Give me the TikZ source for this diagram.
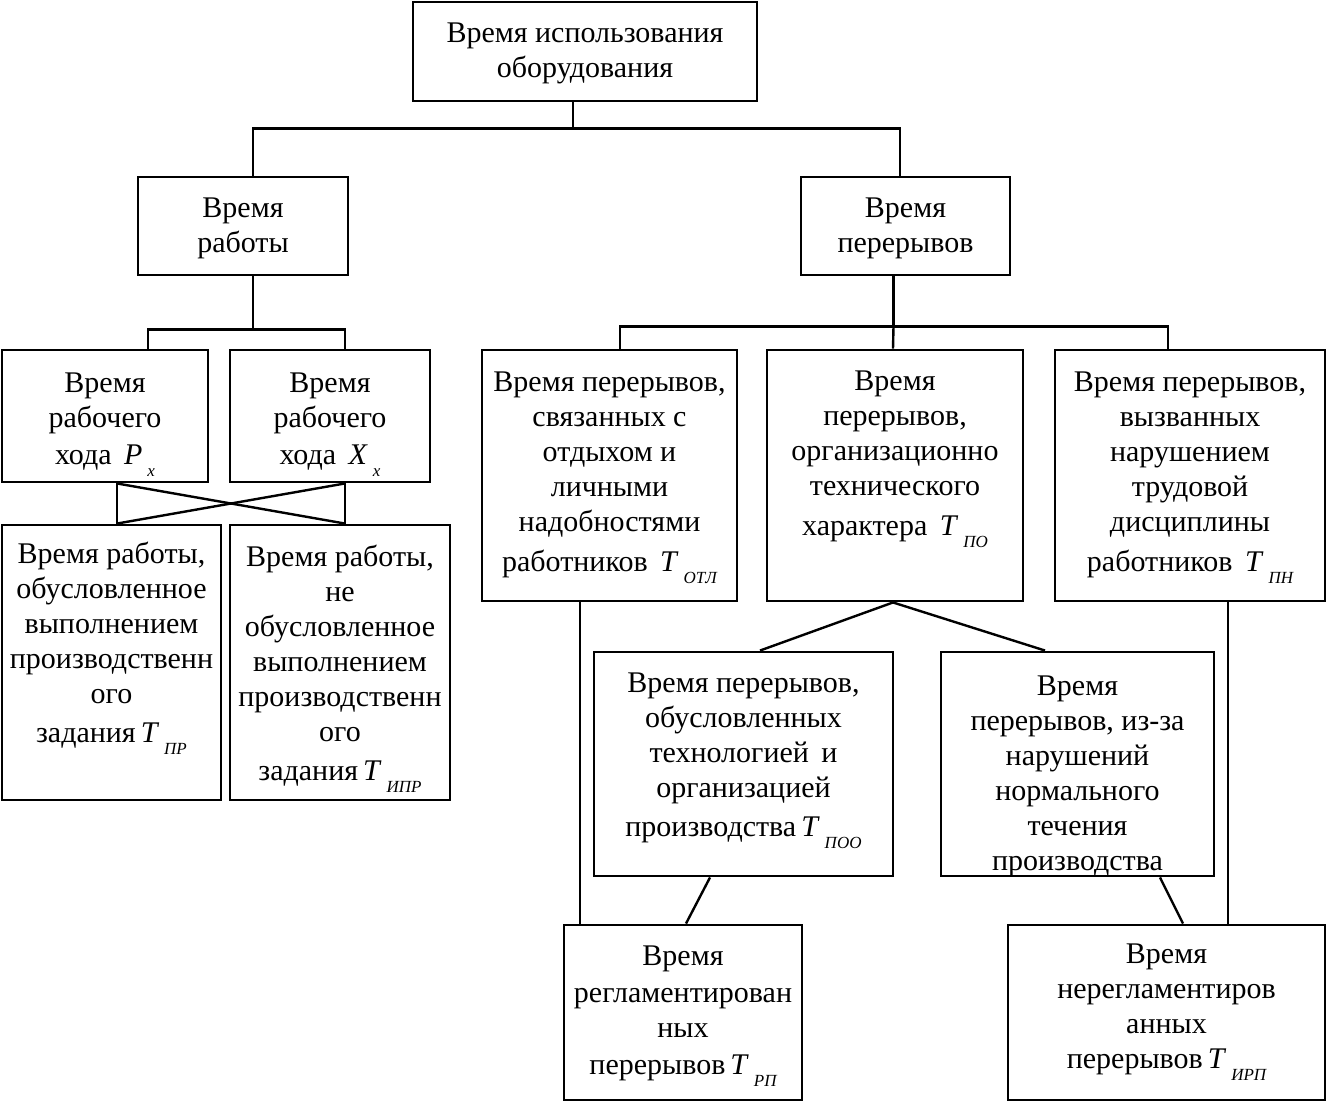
\documentclass[tikz,border=0pt]{standalone}
\usepackage{fontspec}
\setmainfont{Liberation Serif}
\newcommand{\Tsub}[2]{\textit{#1}\,\raisebox{-0.4em}{\fontsize{17}{17}\selectfont\itshape #2}}
\tikzset{
  box/.style={draw, line width=2.9pt, inner sep=0pt},
  txt/.style={align=center, font=\fontsize{30}{35}\selectfont, inner sep=0pt},
  conn/.style={line width=2.4pt}
}
\begin{document}
\begin{tikzpicture}[x=1pt,y=-1pt]
\useasboundingbox (0,0) rectangle (1327,1103);
% boxes
\node[box, minimum width=344, minimum height=99] (top) at (585,51.5) {};
\node[box, minimum width=210, minimum height=98] (work) at (243,226) {};
\node[box, minimum width=209, minimum height=98] (brk) at (905.5,226) {};
\node[box, minimum width=206, minimum height=132] (px) at (105,416) {};
\node[box, minimum width=200, minimum height=132] (xx) at (330,416) {};
\node[box, minimum width=219, minimum height=275] (ta) at (111.5,662.5) {};
\node[box, minimum width=220, minimum height=275] (tb) at (340,662.5) {};
\node[box, minimum width=255, minimum height=251] (otl) at (609.5,475.5) {};
\node[box, minimum width=256, minimum height=251] (po) at (895,475.5) {};
\node[box, minimum width=270, minimum height=251] (nn) at (1190,475.5) {};
\node[box, minimum width=299, minimum height=224] (poo) at (743.5,764) {};
\node[box, minimum width=273, minimum height=224] (rm) at (1077.5,764) {};
\node[box, minimum width=238, minimum height=175] (rp) at (683,1012.5) {};
\node[box, minimum width=317, minimum height=175] (nrp) at (1166.5,1012.5) {};
% texts (yshift is in canvas direction: negative = down)
\node[txt] (ttop) at ([yshift=-2]top.center) {Время использования\\оборудования};
\node[txt] (twork) at ([yshift=-2]work.center) {Время\\работы};
\node[txt] (tbrk) at ([yshift=-2]brk.center) {Время\\перерывов};
\node[txt] (tpx) at ([yshift=-9]px.center) {Время\\рабочего\\[2pt]хода\, \Tsub{P}{х}};
\node[txt] (txx) at ([yshift=-9]xx.center) {Время\\рабочего\\[2pt]хода\, \Tsub{X}{х}};
\node[txt] (tta) at ([yshift=14]ta.center) {Время работы,\\обусловленное\\выполнением\\производственн\\ого\\[4pt]задания\,\Tsub{T}{ПР}};
\node[txt] (ttb) at ([yshift=-6]tb.center) {Время работы,\\не\\обусловленное\\выполнением\\производственн\\ого\\[4pt]задания\,\Tsub{T}{ИПР}};
\node[txt] (totl) at ([yshift=-2]otl.center) {Время перерывов,\\связанных с\\отдыхом и\\личными\\надобностями\\[5pt]работников\, \Tsub{T}{ОТЛ}};
\node[txt] (tpo) at ([yshift=16]po.center) {Время\\перерывов,\\организационно\\технического\\[5pt]характера\, \Tsub{T}{ПО}};
\node[txt] (tnn) at ([yshift=-2]nn.center) {Время перерывов,\\вызванных\\нарушением\\трудовой\\дисциплины\\[5pt]работников\, \Tsub{T}{ПН}};
\node[txt] (tpoo) at ([yshift=3.5]poo.center) {Время перерывов,\\обусловленных\\технологией\, и\\организацией\\[4pt]производства\,\Tsub{T}{ПОО}};
\begin{scope}
\clip (rm.north west) rectangle (rm.south east);
\node[txt] (trm) at ([yshift=-12]rm.center) {Время\\перерывов, из-за\\нарушений\\нормального\\течения\\производства};
\end{scope}
\node[box, minimum width=273, minimum height=224] at (rm.center) {};
\node[txt] (trp) at ([yshift=-4]rp.center) {Время\\[2pt]регламентирован\\ных\\[2pt]перерывов\,\Tsub{T}{РП}};
\node[txt] (tnrp) at ([yshift=0]nrp.center) {Время\\нерегламентиров\\анных\\перерывов\,\Tsub{T}{ИРП}};
% connectors
\draw[conn] ([xshift=-12]top.south) -- ++(0,26) coordinate (j1);
\draw[conn] ([xshift=10]work.north) |- (j1) -| ([xshift=-5.5]brk.north);
\draw[conn] ([xshift=10]work.south) -- ++(0,53) coordinate (j2);
\draw[conn] ([xshift=43]px.north) |- (j2) -| ([xshift=15]xx.north);
\draw[conn] ([xshift=12]px.south) -- ([xshift=5.5]ta.north);
\draw[conn] ([xshift=15]xx.south) -- ([xshift=5]tb.north);
\draw[conn] ([xshift=12]px.south) -- ([xshift=5]tb.north);
\draw[conn] ([xshift=15]xx.south) -- ([xshift=5.5]ta.north);
\draw[conn] ([xshift=-12]brk.south) -- ++(0,50) coordinate (j3);
\draw[conn] ([xshift=10.5]otl.north) |- (j3) -| ([xshift=-22]nn.north);
\draw[conn] (j3) -- ([xshift=-2]po.north);
\draw[conn] ([xshift=16.5]poo.north) -- ([xshift=-2]po.south) -- ([xshift=-32.5]rm.north);
\draw[conn] ([xshift=-29.5]otl.south) -- ([xshift=-29.5]otl.south |- rp.north);
\draw[conn] ([xshift=-33.5]poo.south) -- ([xshift=3]rp.north);
\draw[conn] ([xshift=38]nn.south) -- ([xshift=38]nn.south |- nrp.north);
\draw[conn] ([xshift=82.5]rm.south) -- ([xshift=16.5]nrp.north);
\end{tikzpicture}
\end{document}
